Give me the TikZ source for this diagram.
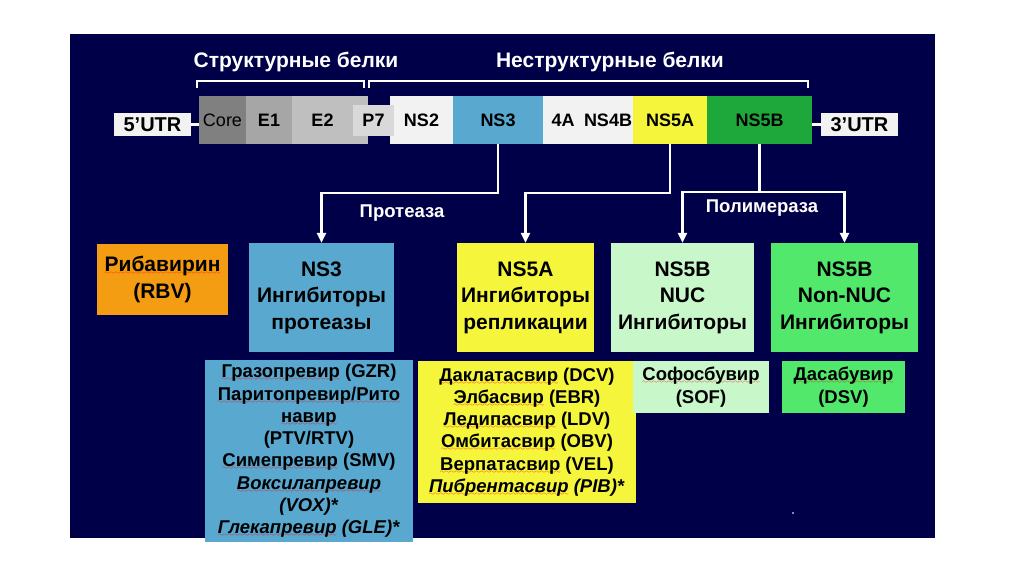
\documentclass[tikz,border=0pt]{standalone}
\usepackage{fontspec}
\setmainfont{Liberation Sans}
\usetikzlibrary{arrows.meta,positioning,calc}
\definecolor{Navy}{HTML}{000048}
\definecolor{Seg}{HTML}{F2F2F2}
\definecolor{GrA}{HTML}{808080}
\definecolor{GrB}{HTML}{A6A6A6}
\definecolor{GrC}{HTML}{BFBFBF}
\definecolor{GrD}{HTML}{D9D9D9}
\definecolor{Blu}{HTML}{58A8CF}
\definecolor{Yel}{HTML}{F5F53C}
\definecolor{Grn}{HTML}{1EA83C}
\definecolor{LGrn}{HTML}{C8F7CA}
\definecolor{BGrn}{HTML}{52E86C}
\definecolor{Org}{HTML}{F59D12}
\font\sqfont=lasy6 at 6pt
\newcommand{\sq}[1]{\setbox0=\hbox{#1}\rlap{\color{red}\lower3pt\hbox to \wd0{\xleaders\hbox{\sqfont\char58}\hfill}}\box0\relax}
\tikzset{
  seg/.style={minimum height=48pt,inner sep=0pt,font=\fontsize{18}{20}\selectfont\bfseries},
  utr/.style={fill=Seg,minimum width=77pt,minimum height=23pt,inner sep=0pt,font=\fontsize{20}{24}\selectfont\bfseries},
  hdr/.style={text=white,inner sep=1pt,font=\fontsize{21}{24}\selectfont\bfseries},
  lbl/.style={text=white,inner sep=1pt,font=\fontsize{18.5}{22}\selectfont\bfseries},
  tgt/.style={minimum height=109pt,inner sep=0pt,align=center,font=\fontsize{21}{26.5}\selectfont\bfseries},
  drug/.style={inner sep=0pt,align=center,font=\fontsize{18.5}{22.3}\selectfont\bfseries},
  arr/.style={-{Triangle[length=10pt,width=9pt]},draw=white,line width=2.5pt},
  wire/.style={draw=white,line width=2.5pt},
  brk/.style={draw=white,line width=2pt},
}
\begin{document}
\begin{tikzpicture}[x=1pt,y=-1pt]
% canvas
\fill[white] (0,0) rectangle (1024,574);
\fill[Navy] (70,34) rectangle (935,538);
% protein groups
\node[hdr] (sh) at (296,62) {Структурные белки};
\node[hdr] (nh) at (610,62) {Неструктурные белки};
\draw[brk] (197,88) |- (364,81) -- (364,88);
\draw[brk] (369,88) |- (808,81) -- (808,88);
% genome bar
\node[utr] (u5) at (152.5,124.5) {5’UTR};
\node[seg,fill=GrA,minimum width=47pt,font=\fontsize{18}{20}\selectfont] (core) at (222.5,120) {Core};
\node[seg,fill=GrB,minimum width=46pt] (e1) at (269,120) {E1};
\node[seg,fill=GrC,minimum width=61pt] (e2) at (322.5,120) {E2};
\fill[GrC] (e2.north east) rectangle (368,144);
\node[seg,fill=Seg,minimum width=63pt] (ns2) at (421.5,120) {NS2};
\node[seg,fill=GrD,minimum width=41pt,minimum height=31pt] (p7) at (373.5,120.5) {P7};
\node[seg,fill=Blu,minimum width=90pt] (ns3) at (498,120) {NS3};
\node[seg,fill=Seg,minimum width=40pt] (n4a) at (563,120) {4A};
\node[seg,fill=Seg,minimum width=50pt] (n4b) at (608,120) {NS4B};
\node[seg,fill=Yel,minimum width=74pt] (ns5a) at (670,120) {NS5A};
\node[seg,fill=Grn,minimum width=105pt] (ns5b) at (759.5,120) {NS5B};
\node[utr] (u3) at (859.5,124.5) {3’UTR};
\draw[wire] (u5.east) -- (u5.east -| core.west);
\draw[wire] (u3.west -| ns5b.east) -- (u3.west);
% drug targets
\node[tgt,fill=Org,minimum width=131pt,minimum height=71pt] (rbv) at (162.5,279.5) {\sq{Рибавирин}\\(RBV)};
\node[tgt,fill=Blu,minimum width=145pt] (ns3i) at (321.5,297.5) {NS3\\Ингибиторы\\протеазы};
\node[tgt,fill=Yel,minimum width=137pt] (ns5ai) at (525.5,297.5) {NS5A\\Ингибиторы\\репликации};
\node[tgt,fill=LGrn,minimum width=143pt] (nuc) at (682.5,297.5) {NS5B\\NUC\\Ингибиторы};
\node[tgt,fill=BGrn,minimum width=147pt] (nnuc) at (844.5,297.5) {NS5B\\Non-NUC\\Ингибиторы};
% enzyme arrows
\draw[arr] (ns3.south) -- ++(0,49) -| (ns3i.north);
\draw[arr] (ns5a.south) -- ++(0,49) -| (ns5ai.north);
\coordinate (pol) at ($(ns5b.south)+(0,48)$);
\draw[wire] (ns5b.south) -- (pol);
\draw[arr] (pol) -| (nuc.north);
\draw[arr] (pol) -| (nnuc.north);
\node[lbl] (prot) at (402,213) {Протеаза};
\node[lbl] (poly) at (762,208) {Полимераза};
% drug lists
\node[drug,fill=Blu,minimum width=208pt,minimum height=182pt] (l3) at (309,451) {\sq{Гразопревир} (GZR)\\\sq{Паритопревир/Рито}\\\sq{навир}\\(PTV/RTV)\\\sq{Симепревир} (SMV)\\\textit{\sq{Воксилапревир}}\\\textit{(VOX)*}\\\textit{\sq{Глекапревир} (GLE)*}};
\node[drug,fill=Yel,minimum width=218pt,minimum height=142pt] (l5a) at (527,432) {\sq{Даклатасвир} (DCV)\\\sq{Элбасвир} (EBR)\\\sq{Ледипасвир} (LDV)\\\sq{Омбитасвир} (OBV)\\\sq{Верпатасвир} (VEL)\\\textit{\sq{Пибрентасвир} (PIB)*}};
\node[drug,fill=LGrn,minimum width=136pt,minimum height=52pt] (sof) at (701,387) {\sq{Софосбувир}\\(SOF)};
\node[drug,fill=BGrn,minimum width=123pt,minimum height=52pt] (dsv) at (843.5,387) {\sq{Дасабувир}\\(DSV)};
\fill[blue!30!white] (793,513) circle (1.2);
\end{tikzpicture}
\end{document}
